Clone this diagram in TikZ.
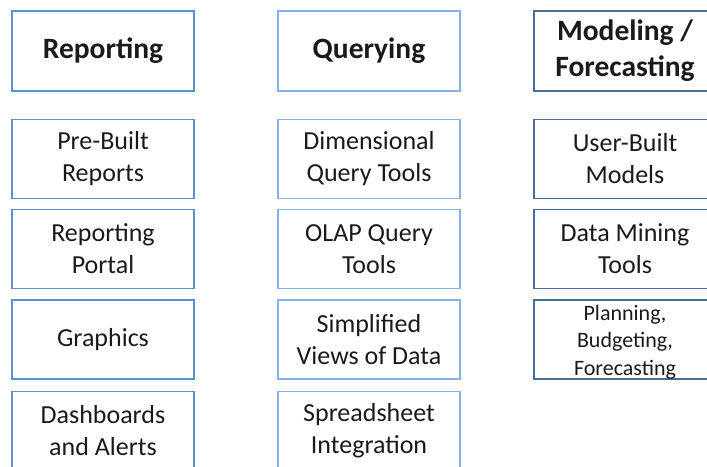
\documentclass[tikz,border=0pt]{standalone}
\usepackage{fontspec}
\setmainfont{Carlito}
\definecolor{repblue}{HTML}{5B8FD0}
\definecolor{qryblue}{HTML}{85B3E8}
\definecolor{modblue}{HTML}{4A6E9A}
\definecolor{ink}{HTML}{1A1A1A}
\tikzset{
  cell/.style={draw, line width=1.4pt, rectangle, minimum width=182pt,
    minimum height=79pt, inner sep=0pt, align=center, text=ink,
    font=\fontsize{26}{32}\selectfont},
  head/.style={cell, minimum height=80pt,
    font=\fontsize{29.5}{36}\selectfont\bfseries},
  repcell/.style={cell, draw=repblue},
  qrycell/.style={cell, draw=qryblue},
  modcell/.style={cell, draw=modblue},
}
\begin{document}
\begin{tikzpicture}[x=1pt, y=-1pt]
\useasboundingbox (0,0) rectangle (707,466);
\clip (0,0) rectangle (707,466);

% column headings
\node[head, draw=repblue] (hrep) at (103,51) {Reporting};
\node[head, draw=qryblue] (hqry) at (369,51) {Querying};
\node[head, draw=modblue] (hmod) at (625,51) {Modeling /\\Forecasting};

% reporting column
\node[repcell] (r1) at (103,159) {Pre-Built\\Reports};
\node[repcell] (r2) at (103,249) {Reporting\\Portal};
\node[repcell] (r3) at (103,339.5) {Graphics};
\node[repcell] (r4) at (103,431) {Dashboards\\and Alerts};

% querying column
\node[qrycell] (q1) at (369,159) {Dimensional\\Query Tools};
\node[qrycell] (q2) at (369,249) {OLAP Query\\Tools};
\node[qrycell] (q3) at (369,339.5) {Simplified\\Views of Data};
\node[qrycell] (q4) at (369,431) {Spreadsheet\\Integration};

% modeling / forecasting column
\node[modcell] (m1) at (625,159) {User-Built\\Models};
\node[modcell] (m2) at (625,249) {Data Mining\\Tools};
\node[modcell, minimum height=79pt] (m3) at (625,339.5) {};
\node[inner sep=0pt, align=center, text=ink,
      font=\fontsize{22}{27.5}\selectfont] (m3text) at (625,342)
  {Planning,\\Budgeting,\\Forecasting};
\end{tikzpicture}
\end{document}
